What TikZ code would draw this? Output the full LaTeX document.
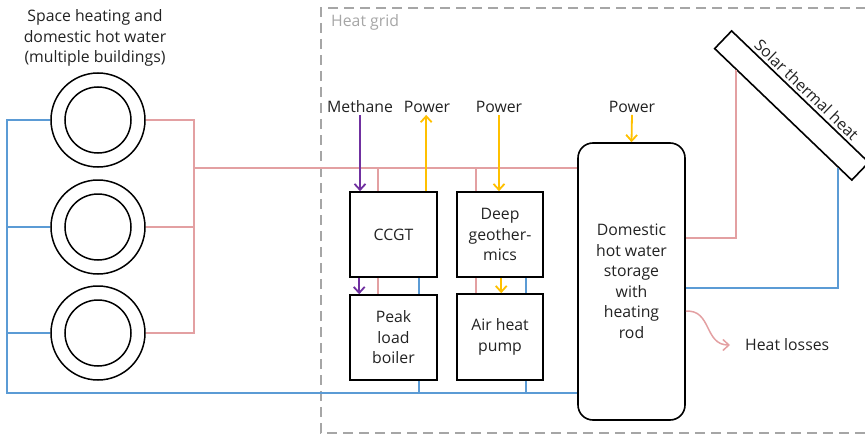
\documentclass[tikz,border=0pt]{standalone}
\usepackage{fontspec}
\setmainfont{Open Sans}
\usetikzlibrary{arrows.meta,calc}
\definecolor{hot}{HTML}{E3A0A2}
\definecolor{cold}{HTML}{5B9BD5}
\definecolor{power}{HTML}{FFC000}
\definecolor{gas}{HTML}{7030A0}
\definecolor{gridgray}{HTML}{A6A6A6}
\definecolor{txt}{HTML}{222222}
\begin{document}
\begin{tikzpicture}[x=1pt,y=-1pt,
  font=\fontsize{15.8}{20.5}\selectfont, text=txt,
  hotline/.style={draw=hot, line width=2pt},
  coldline/.style={draw=cold, line width=2pt},
  barb/.style={-{Straight Barb[length=6pt,width=11pt,line width=1.8pt]}},
  powarrow/.style={draw=power, line width=1.8pt, barb},
  gasarrow/.style={draw=gas, line width=1.8pt, barb},
  unitbox/.style={draw=black, line width=1.6pt, align=center, inner sep=0pt},
  ring/.style={circle, draw=black, line width=1.5pt, inner sep=0pt},
  gridline/.style={draw=gridgray, line width=2.6pt, dash pattern=on 10pt off 6pt},
  lbl/.style={inner sep=2pt}
]
\useasboundingbox (0,0) rectangle (865,436);

% heat grid frame
\draw[gridline] (866,8) -- (321,8) -- (321,433) -- (866,433);
\node[text=gridgray, anchor=west, inner sep=0pt] (hg) at (331,22) {Heat grid};

% buildings
\node[align=center, lbl] (bldtxt) at (95,38) {Space heating and\\domestic hot water\\(multiple buildings)};
\foreach \i/\y in {1/120,2/227,3/333}{
  \node[ring, minimum size=94pt] (b\i) at (98,\y) {};
  \node[ring, minimum size=66pt] (bi\i) at (98,\y) {};
}

% units
\node[unitbox, minimum width=87pt, minimum height=85pt] (ccgt) at (393.5,234.5) {CCGT};
\node[unitbox, minimum width=87pt, minimum height=85pt] (peak) at (393.5,337.5) {Peak\\load\\boiler};
\node[unitbox, minimum width=86pt, minimum height=85pt] (deep) at (500,234.5) {Deep\\geother-\\mics};
\node[unitbox, minimum width=86pt, minimum height=86pt] (ahp) at (500,337) {Air heat\\pump};
\node[unitbox, rounded corners=15pt, minimum width=107pt, minimum height=277pt] (tank) at (631.5,281.5) {Domestic\\hot water\\storage\\with\\heating\\rod};

% solar panel
\node[draw=black, line width=1.6pt, minimum width=190pt, minimum height=24.5pt, inner sep=0pt, rotate=-43.8] (solar) at (791.7,105.5) {};
\node[rotate=-43.8, anchor=south, inner sep=2.5pt] (solartxt) at (solar.north) {Solar thermal heat};

% labels
\node[lbl] (meth) at (360,107) {Methane};
\node[lbl] (pw1) at (427,107) {Power};
\node[lbl] (pw2) at (499,107) {Power};
\node[lbl] (pw3) at (632,107) {Power};
\node[anchor=west, lbl] (hl) at (743,345) {Heat losses};

% junction coordinates
\coordinate (cl) at (7,393);
\coordinate (hr) at (194,168);

% cold return lines
\draw[coldline] (b1.west) -| (cl) -- (cl -| tank.west);
\draw[coldline] (b2.west) -- (b2.west -| cl);
\draw[coldline] (b3.west) -- (b3.west -| cl);

% hot supply lines
\draw[hotline] (b1.east) -| (hr);
\draw[hotline] (b3.east) -| (hr);
\draw[hotline] (b2.east) -- (b2.east -| hr);
\draw[hotline] (hr) -- (hr -| tank.west);

% CCGT / peak load boiler
\draw[hotline] ($(ccgt.north west)+(29,0)$) coordinate (c1) -- (c1 |- hr);
\draw[hotline] ($(ccgt.south west)+(29,0)$) -- ($(peak.north west)+(29,0)$);
\draw[coldline] ($(ccgt.south west)+(70,0)$) -- ($(peak.north west)+(70,0)$);
\draw[coldline] ($(peak.south west)+(70,0)$) coordinate (p1) -- (p1 |- cl);
\draw[gasarrow] (meth.south) -- (meth.south |- ccgt.north);
\draw[gasarrow] ($(ccgt.south west)+(10,0)$) -- ($(peak.north west)+(10,0)$);
\draw[powarrow] ($(ccgt.north west)+(77,0)$) coordinate (c2) -- (c2 |- pw1.south);

% deep geothermics / air heat pump
\draw[hotline] ($(deep.north west)+(20,0)$) coordinate (d1) -- (d1 |- hr);
\draw[hotline] ($(deep.south west)+(20,0)$) -- ($(ahp.north west)+(20,0)$);
\draw[coldline] ($(deep.south west)+(70,0)$) -- ($(ahp.north west)+(70,0)$);
\draw[coldline] ($(ahp.south west)+(70,0)$) coordinate (a1) -- (a1 |- cl);
\draw[powarrow] (pw2.south) -- (pw2.south |- deep.north);
\draw[powarrow] ($(deep.south west)+(45,0)$) -- ($(ahp.north west)+(45,0)$);

% storage
\draw[powarrow] (pw3.south) -- (tank.north);
\draw[hotline] ($(tank.north east)+(0,96)$) -| ($(solar.south west)!0.165!(solar.south east)$);
\draw[coldline] ($(tank.north east)+(0,146)$) -| ($(solar.south west)!0.90!(solar.south east)$);
\draw[draw=hot, line width=1.5pt, -{Straight Barb[length=6pt,width=11pt,line width=1.5pt]}]
  ($(tank.north east)+(0,169)$) .. controls +(26,-2) and +(-26,0) .. ($(hl.west)+(-13,0)$);
\end{tikzpicture}
\end{document}
